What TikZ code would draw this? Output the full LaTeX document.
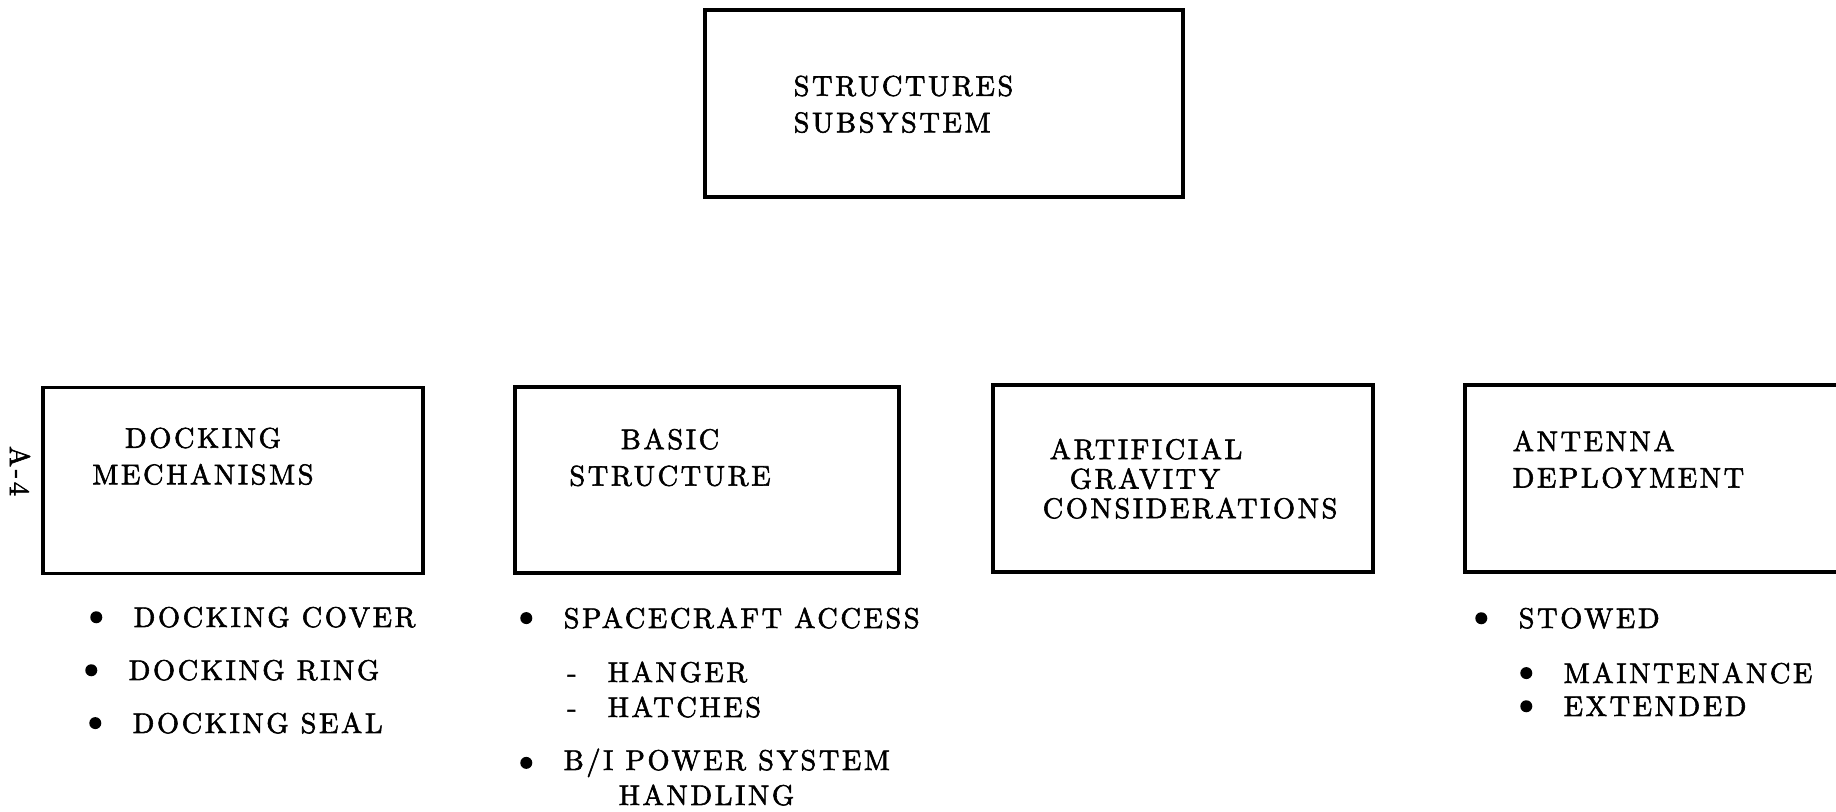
\documentclass[tikz,border=0pt]{standalone}
\usepackage{fontspec}
\setmainfont{lmroman10-regular.otf}[LetterSpace=9, FakeBold=2]
\usetikzlibrary{positioning}
\newcommand{\chartfont}{\fontsize{8.1pt}{10.4pt}\selectfont}

\begin{document}
\begin{tikzpicture}[
    chartbox/.style={draw, line width=0.9pt, inner sep=0pt, minimum width=3.8cm, minimum height=1.86cm},
    boxtext/.style={inner sep=0pt, font=\chartfont},
    item/.style={inner sep=0pt, anchor=base west, font=\chartfont},
    bulletdot/.style={circle, fill=black, inner sep=0pt, minimum size=1.2mm}
  ]
  \useasboundingbox (0,0) rectangle (18.36,8.12);
  % Top box
  \node[chartbox, minimum width=4.78cm, minimum height=1.87cm] (top) at (9.44,7.085) {};
  \node[boxtext, anchor=north west, align=left] (topname) at (7.93,7.37) {STRUCTURES\\SUBSYSTEM};
  % Second row (right box runs off the page)
  \node[chartbox] (dock) at (2.33,3.315) {};
  \node[chartbox, minimum width=3.84cm] (basic) at (7.07,3.32) {};
  \node[chartbox, minimum height=1.87cm] (grav) at (11.83,3.335) {};
  \node[chartbox, minimum width=4.2cm, minimum height=1.87cm] (ant) at (16.75,3.335) {};
  \node[boxtext, anchor=north, align=center] (dockname) at (2.03,3.85) {DOCKING\\MECHANISMS};
  \node[boxtext, anchor=north, align=center] (basicname) at (6.70,3.84) {BASIC\\STRUCTURE};
  \node[boxtext, anchor=north west, align=left, font=\fontsize{8.1pt}{8.4pt}\selectfont] (gravname) at (10.42,3.74)
    {\hspace*{0.07cm}ARTIFICIAL\\\hspace*{0.27cm}GRAVITY\\CONSIDERATIONS};
  \node[boxtext, anchor=north west, align=left] (antname) at (15.12,3.82) {ANTENNA\\DEPLOYMENT};
  % Page number
  \node[boxtext, rotate=-90] (pagenum) at (0.20,3.41) {A-4};
  % Docking items
  \node[item] (cover) at (1.33,1.85) {DOCKING COVER};
  \node[item] (ring) at (1.28,1.32) {DOCKING RING};
  \node[item] (seal) at (1.32,0.79) {DOCKING SEAL};
  \node[bulletdot, left=0.3cm of cover] (cover-dot) {};
  \node[bulletdot, left=0.3cm of ring] (ring-dot) {};
  \node[bulletdot, left=0.3cm of seal] (seal-dot) {};
  % Structure items
  \node[item] (access) at (5.63,1.84) {SPACECRAFT ACCESS};
  \node[item] (hanger) at (6.07,1.30) {HANGER};
  \node[item] (hatches) at (6.07,0.95) {HATCHES};
  \node[item, anchor=base] (hanger-dash) at (5.72,1.30) {-};
  \node[item, anchor=base] (hatches-dash) at (5.72,0.95) {-};
  \node[item] (power) at (5.63,0.42) {B/I POWER SYSTEM};
  \node[item] (handling) at (6.18,0.07) {HANDLING};
  \node[bulletdot, left=0.3cm of access] (access-dot) {};
  \node[bulletdot, left=0.3cm of power] (power-dot) {};
  % Antenna items
  \node[item] (stowed) at (15.18,1.84) {STOWED};
  \node[item] (maint) at (15.63,1.29) {MAINTENANCE};
  \node[item] (extended) at (15.63,0.96) {EXTENDED};
  \node[bulletdot, left=0.3cm of stowed] (stowed-dot) {};
  \node[bulletdot, left=0.3cm of maint] (maint-dot) {};
  \node[bulletdot, left=0.3cm of extended] (extended-dot) {};
\end{tikzpicture}
\end{document}
